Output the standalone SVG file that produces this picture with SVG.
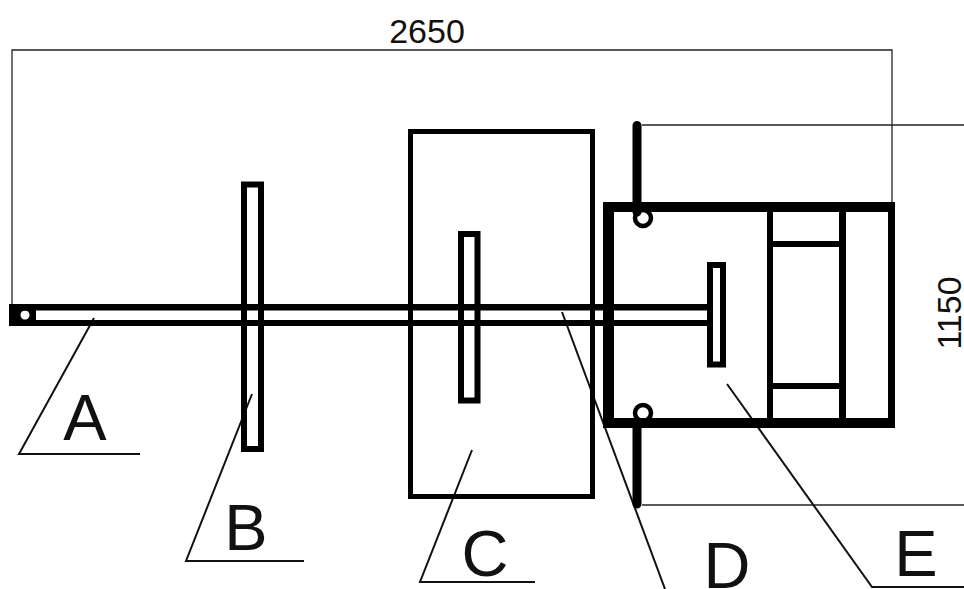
<svg xmlns="http://www.w3.org/2000/svg" width="964" height="589" viewBox="0 0 964 589">
<style>
.t{font-family:"Liberation Sans",Arial,sans-serif;fill:#111}
.big{font-size:65px}
.dim{font-size:34px}
.thin{fill:none;stroke:#222;stroke-width:1.3}
.lead{fill:none;stroke:#111;stroke-width:2}
.hv{fill:none;stroke:#000}
</style>
<rect width="964" height="589" fill="#fff"/>
<g id="connectors">
<path class="thin" d="M12 304V50H892V202"/>
<path class="thin" d="M642 125H964"/>
<path class="thin" d="M642 505H964"/>
<path class="lead" d="M94 318L19 454H140"/>
<path class="lead" d="M252 394L186 561H304"/>
<path class="lead" d="M472 450L420 582H535"/>
<path class="lead" d="M562 312L665 589"/>
<path class="lead" d="M727 384L872 587H964"/>
</g>
<g id="node-C"><rect class="hv" x="410.500" y="131.500" width="182" height="365" stroke-width="5"/>
<rect class="hv" x="461" y="234" width="16.500" height="166.500" stroke-width="6"/></g>
<g id="node-B"><rect class="hv" x="244" y="184.500" width="17" height="264.500" stroke-width="6"/></g>
<g id="node-A">
<path class="hv" stroke-width="6.500" d="M9 307.300H708"/>
<path class="hv" stroke-width="6" d="M9 323H708"/>
<rect x="9" y="304" width="6" height="22" fill="#000"/>
<path d="M15 304H36V326H15ZM25 310.500a4.500 4.500 0 1 0 .01 0Z" fill="#000" fill-rule="evenodd"/>
<rect class="hv" x="710" y="265" width="13" height="99.500" stroke-width="6" fill="#fff"/>
</g>
<g id="node-E">
<rect x="603" y="202" width="292" height="10" fill="#000"/>
<rect x="603" y="418" width="292" height="10" fill="#000"/>
<rect x="603" y="202" width="11" height="226" fill="#000"/>
<rect x="888" y="202" width="7" height="226" fill="#000"/>
<rect x="767" y="202" width="6" height="226" fill="#000"/>
<rect x="839" y="202" width="7" height="226" fill="#000"/>
<rect x="767" y="241" width="79" height="6" fill="#000"/>
<rect x="767" y="383" width="79" height="6" fill="#000"/>
<path class="hv" stroke-width="9" stroke-linecap="round" d="M637 125.500V212M637 424V504"/>
<circle class="hv" cx="643" cy="218" r="8" stroke-width="4.500"/>
<circle class="hv" cx="643" cy="413" r="8" stroke-width="4.500"/>
</g>
<g id="labels">
<text class="t dim" x="427" y="43" text-anchor="middle">2650</text>
<text class="t dim" transform="translate(961 313) rotate(-90)" text-anchor="middle">1150</text>
<text class="t big" x="85" y="440" text-anchor="middle">A</text>
<text class="t big" x="246" y="550" text-anchor="middle">B</text>
<text class="t big" x="485" y="576" text-anchor="middle">C</text>
<text class="t big" x="727" y="588" text-anchor="middle">D</text>
<text class="t big" x="916" y="576" text-anchor="middle">E</text>
</g>
</svg>
